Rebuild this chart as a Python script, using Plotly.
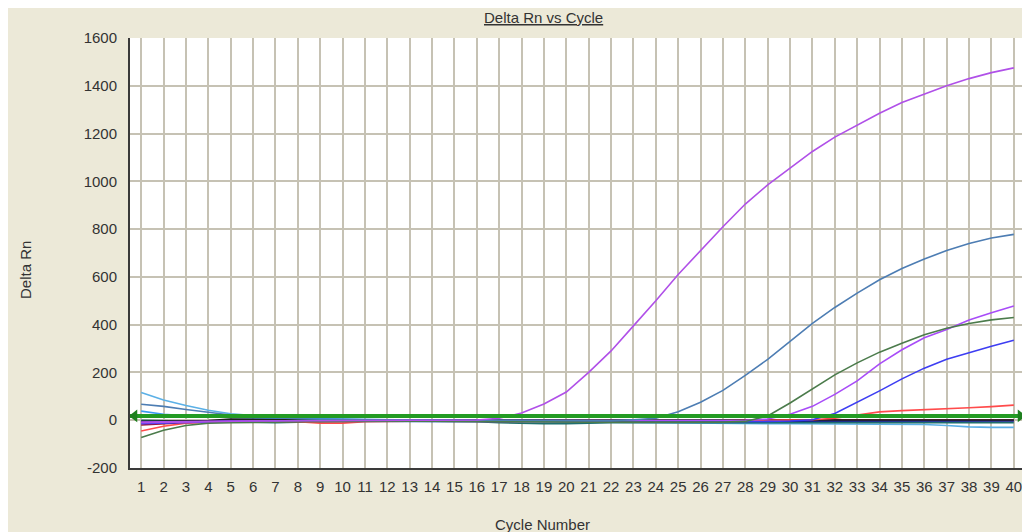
import plotly.graph_objects as go

cycles = list(range(1, 41))

main_violet = [-10,-8,-6,-5,-4,-3,-3,-2,-2,-1,-1,0,0,0,0,1,8,30,68,118,200,290,395,500,610,712,810,905,985,1055,1125,1185,1235,1285,1330,1365,1400,1430,1455,1475]
steel_blue = [67,58,45,32,22,14,9,6,4,3,2,2,1,1,1,0,0,0,0,-2,-3,-2,2,8,35,75,125,188,255,330,405,472,532,588,635,675,710,740,763,778]
dark_green = [-72,-42,-22,-12,-10,-10,-8,-6,-5,-5,-4,-4,-4,-4,-5,-5,-6,-6,-7,-8,-8,-8,-8,-9,-9,-9,-8,-5,18,72,132,190,240,285,322,358,385,405,420,430]
violet_b = [-8,-8,-6,-5,-4,-3,-3,-3,-2,-2,-2,-2,-2,-2,-2,-3,-3,-3,-3,-3,-3,-3,-3,-3,-3,-3,-2,0,5,25,58,108,165,236,295,345,380,420,450,478]
blue = [-15,-12,-8,-6,-5,-4,-4,-4,-3,-3,-3,-3,-3,-3,-4,-4,-5,-5,-6,-6,-6,-7,-7,-7,-7,-7,-6,-5,-5,-3,2,28,74,123,173,218,255,283,310,335]
red = [-45,-25,-12,-8,-6,-5,-5,-6,-12,-12,-6,-4,-4,-4,-5,-5,-5,-5,-5,-6,-6,-6,-6,-6,-5,-5,-4,-2,-2,0,2,8,20,35,40,43,48,52,57,63]
light_blue_a = [116,85,62,42,27,18,12,8,5,3,2,1,0,0,-1,-2,-3,-5,-6,-8,-10,-10,-12,-12,-13,-14,-15,-15,-15,-15,-15,-15,-15,-15,-16,-18,-22,-28,-30,-30]
light_blue_b = [38,25,18,14,12,10,8,6,5,4,3,2,2,1,1,0,-2,-4,-5,-6,-6,-7,-8,-8,-10,-10,-10,-10,-8,-8,-8,-8,-8,-8,-8,-6,-5,-3,-1,0]
lavender = [-5,-5,-4,-3,-2,-2,-1,-1,0,0,0,0,-1,-1,-1,-2,-2,-3,-3,-3,-3,-3,-4,-4,-4,-4,-4,-4,-4,-4,-3,-3,-3,-3,-3,-3,-3,-3,-3,-3]
dark_red = [-20,-15,-8,-5,-4,-3,-3,-3,-3,-3,-3,-3,-3,-3,-3,-3,-3,-3,-3,-4,-4,-4,-4,-4,-4,-3,-2,0,2,2,2,2,2,1,1,1,1,1,1,1]
navy = [-10,-8,-4,-2,-1,-1,0,-1,-1,-1,-1,-1,-1,-1,-1,-1,0,2,-1,-2,-3,-3,-3,-4,-4,-4,-4,-4,-4,-3,-3,-3,-3,-3,-3,-3,-3,-3,-3,-3]
teal = [0,-2,-4,-6,-8,-10,-10,-8,-6,-5,-4,-4,-4,-4,-5,-6,-10,-14,-15,-15,-12,-10,-10,-10,-10,-10,-10,-10,-10,-10,-10,-10,-10,-10,-10,-10,-10,-10,-10,-10]
black = [-5,-3,-2,-1,5,5,5,2,0,0,0,0,0,0,0,0,0,0,0,0,0,0,0,0,0,0,0,0,0,2,2,2,2,2,2,2,2,1,1,1]

threshold_value = 18
threshold_x = [0.5, 40.5]

y_ticks = [-200, 0, 200, 400, 600, 800, 1000, 1200, 1400, 1600]
y_tick_labels = ["-200", "0", "200", "400", "600", "800", "1000", "1200", "1400", "1600"]

series = [
    (light_blue_a, "#5BB0E6"),
    (light_blue_b, "#3A9CF0"),
    (lavender, "#C58AF2"),
    (dark_red, "#9E1030"),
    (navy, "#101090"),
    (teal, "#1F6F6F"),
    (black, "#202020"),
    (red, "#FF4B4B"),
    (blue, "#3D3DF2"),
    (violet_b, "#A84CF8"),
    (dark_green, "#4B7B4B"),
    (steel_blue, "#4D7DB3"),
    (main_violet, "#B050E8"),
]

fig = go.Figure()
for vals, col in series:
    fig.add_trace(go.Scatter(x=cycles, y=vals, mode="lines",
                             line=dict(color=col, width=1.6), showlegend=False,
                             hoverinfo="skip"))

fig.add_trace(go.Scatter(x=threshold_x, y=[threshold_value, threshold_value], mode="lines",
                         line=dict(color="#239B23", width=4), showlegend=False, hoverinfo="skip"))
fig.add_trace(go.Scatter(x=[threshold_x[0] + 0.2, threshold_x[1] - 0.2],
                         y=[threshold_value, threshold_value], mode="markers",
                         marker=dict(symbol=["triangle-left", "triangle-right"], size=11,
                                     color="#1E7F1E"),
                         cliponaxis=False, showlegend=False, hoverinfo="skip"))

font_family = "Liberation Sans, Arial, sans-serif"
txt_col = "#333333"
grid_col = "#C6C2B4"

OFF = 8  # page body offset
L, R, T, B = 122, 13, 30, 72
W, H = 1030, 532
pw, ph = W - L - R, H - T - B

def px_x(p):
    return (p - OFF - L) / pw

def px_y(p):
    return (H - B - (p - OFF)) / ph

fig.update_layout(
    width=W, height=H,
    margin=dict(l=L, r=R, t=T, b=B, pad=0),
    paper_bgcolor="#ECE9D8",
    plot_bgcolor="white",
    font=dict(family=font_family, size=15, color=txt_col),
    annotations=[
        dict(text="<u>Delta Rn vs Cycle</u>", xref="paper", yref="paper",
             x=px_x(543), y=px_y(18), showarrow=False, xanchor="center", yanchor="middle",
             font=dict(size=15, color=txt_col)),
        dict(text="Cycle Number", xref="paper", yref="paper",
             x=px_x(542), y=px_y(524), showarrow=False, xanchor="center", yanchor="middle",
             font=dict(size=15, color=txt_col)),
        dict(text="Delta Rn", xref="paper", yref="paper", textangle=-90,
             x=px_x(25), y=px_y(270), showarrow=False, xanchor="center", yanchor="middle",
             font=dict(size=15, color=txt_col)),
    ],
)

fig.update_xaxes(
    range=[0.5, 40.5], tickmode="array", tickvals=cycles, ticktext=[str(c) for c in cycles],
    showgrid=True, gridcolor=grid_col, gridwidth=2,
    showline=True, linecolor="#3A3A3A", linewidth=2, mirror=False,
    ticks="", zeroline=False, tickfont=dict(size=15, color=txt_col),
    ticklabelstandoff=4,
)
fig.update_yaxes(
    range=[-200, 1600], tickmode="array", tickvals=y_ticks, ticktext=y_tick_labels,
    showgrid=True, gridcolor=grid_col, gridwidth=2,
    showline=True, linecolor="#3A3A3A", linewidth=2, mirror=True,
    ticks="", zeroline=False, tickfont=dict(size=15, color=txt_col),
    ticklabelstandoff=8,
)

fig.write_html("out.html")
